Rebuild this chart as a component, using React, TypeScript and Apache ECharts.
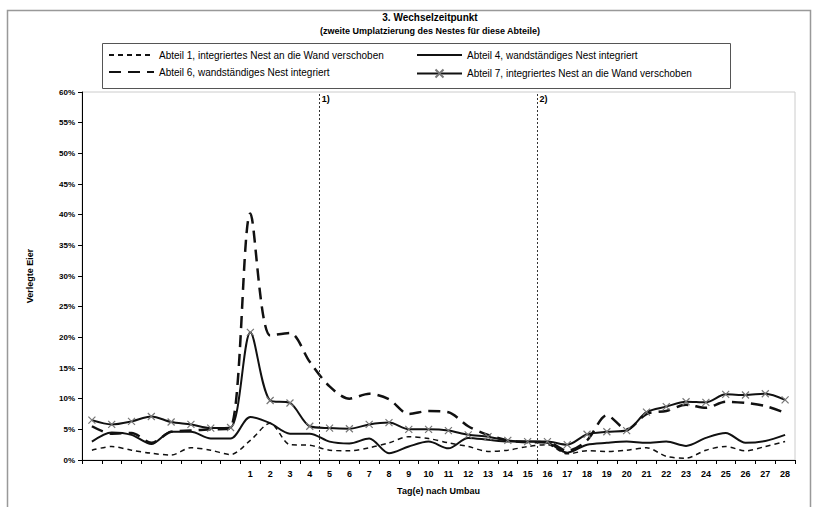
import React, { useEffect, useRef } from "react";
import * as echarts from "echarts";

const titleText = "3. Wechselzeitpunkt";
const subtitleText = "(zweite Umplatzierung des Nestes für diese Abteile)";
const yAxisName = "Verlegte Eier";
const xAxisName = "Tag(e) nach Umbau";

const categories = [
  "", "", "", "", "", "", "", "",
  "1", "2", "3", "4", "5", "6", "7", "8", "9", "10", "11", "12", "13", "14",
  "15", "16", "17", "18", "19", "20", "21", "22", "23", "24", "25", "26", "27", "28",
];

const seriesNames = [
  "Abteil 1, integriertes Nest an die Wand verschoben",
  "Abteil 4, wandständiges Nest integriert",
  "Abteil 6, wandständiges Nest integriert",
  "Abteil 7, integriertes Nest an die Wand verschoben",
];

const abteil1 = [1.6, 2.2, 1.6, 1.1, 0.8, 2.0, 1.6, 0.9, 3.2, 6.0, 2.5, 2.4, 1.6, 1.5, 2.0, 2.8, 3.8, 3.5, 2.8, 2.2, 1.4, 1.6, 2.2, 2.5, 1.0, 1.5, 1.4, 1.6, 2.0, 0.6, 0.3, 1.6, 2.2, 1.5, 2.2, 3.0];
const abteil4 = [3.0, 4.5, 4.1, 2.6, 4.6, 4.6, 3.5, 3.5, 7.0, 6.0, 4.3, 4.3, 3.0, 2.7, 3.5, 1.1, 2.2, 3.0, 1.9, 3.6, 3.3, 3.0, 3.0, 2.8, 1.2, 2.5, 2.8, 3.0, 2.8, 3.0, 2.3, 3.6, 4.4, 2.8, 3.1, 4.1];
const abteil6 = [5.5, 4.3, 4.4, 2.8, 4.6, 4.8, 5.0, 5.2, 40.2, 20.3, 20.7, 16.0, 12.0, 10.0, 10.8, 9.9, 7.5, 8.0, 7.8, 5.5, 4.1, 3.2, 2.9, 2.9, 1.5, 3.2, 7.3, 5.0, 7.5, 8.0, 9.0, 8.5, 9.5, 9.3, 8.8, 7.7];
const abteil7 = [6.5, 5.8, 6.3, 7.1, 6.2, 5.8, 5.2, 5.3, 20.8, 9.7, 9.3, 5.5, 5.2, 5.1, 5.8, 6.1, 5.0, 5.0, 4.8, 4.1, 3.8, 3.2, 3.0, 3.0, 2.5, 4.2, 4.6, 4.8, 7.8, 8.7, 9.5, 9.4, 10.7, 10.6, 10.8, 9.8];

// boundaries (in category units) where the dotted reference lines sit
const refLines = [12, 23];
const refLabels = ["1)", "2)"];

const FONT = "'Liberation Sans Narrow', 'Liberation Sans', Arial, sans-serif";

export default function App() {
  const ref = useRef<HTMLDivElement>(null);
  useEffect(() => {
    if (!ref.current) return;
    const chart = echarts.init(ref.current, null, { renderer: "svg" });
    const lineColor = "#111";
    const noSymbol = { opacity: 0, color: "transparent", borderWidth: 0 };
    const legendText = { fontSize: 10, color: "#000", fontFamily: FONT };
    const option: any = {
      animation: false,
      backgroundColor: "#fff",
      textStyle: { fontFamily: FONT },
      title: {
        text: titleText,
        subtext: subtitleText,
        left: 425,
        textAlign: "center",
        top: 7,
        itemGap: 4,
        textStyle: { fontSize: 10, fontWeight: "bold", color: "#000", fontFamily: FONT },
        subtextStyle: { fontSize: 9, fontWeight: "bold", color: "#000", fontFamily: FONT },
      },
      graphic: [
        {
          type: "rect",
          left: 5,
          top: 8,
          shape: { width: 803, height: 520 },
          style: { fill: "none", stroke: "#999", lineWidth: 1.5 },
          silent: true,
        },
        {
          type: "rect",
          left: 100,
          top: 41,
          shape: { width: 628, height: 45 },
          style: { fill: "none", stroke: "#555", lineWidth: 1 },
          silent: true,
        },
      ],
      legend: [
        {
          data: [
            { name: seriesNames[0], itemStyle: noSymbol },
            { name: seriesNames[2], itemStyle: noSymbol },
          ],
          orient: "vertical",
          left: 103,
          top: 45,
          itemGap: 7,
          itemWidth: 45,
          itemHeight: 10,
          textStyle: legendText,
        },
        {
          data: [
            { name: seriesNames[1], itemStyle: noSymbol },
            { name: seriesNames[3] },
          ],
          orient: "vertical",
          left: 411,
          top: 45,
          itemGap: 7,
          itemWidth: 45,
          itemHeight: 10,
          textStyle: legendText,
        },
      ],
      grid: {
        left: 82,
        right: 33,
        top: 92,
        bottom: 47,
        show: true,
        borderColor: "#ccc",
        borderWidth: 1,
      },
      xAxis: [
        {
          type: "category",
          data: categories,
          boundaryGap: true,
          name: xAxisName,
          nameLocation: "middle",
          nameGap: 26,
          nameTextStyle: { fontSize: 9, fontWeight: "bold", color: "#000", fontFamily: FONT },
          axisLine: { lineStyle: { color: "#000", width: 1 } },
          axisTick: { show: true, alignWithLabel: false, interval: 0, length: 4, lineStyle: { color: "#000" } },
          axisLabel: { interval: 0, fontSize: 9, fontWeight: "bold", color: "#000", margin: 9, fontFamily: FONT },
          splitLine: { show: false },
        },
        {
          type: "value",
          min: 0,
          max: categories.length,
          show: false,
        },
      ],
      yAxis: {
        type: "value",
        min: 0,
        max: 60,
        interval: 5,
        name: yAxisName,
        nameLocation: "middle",
        nameGap: 48,
        nameRotate: 90,
        nameTextStyle: { fontSize: 9, fontWeight: "bold", color: "#000", fontFamily: FONT },
        axisLine: { show: true, lineStyle: { color: "#000", width: 1 } },
        axisTick: { show: true, length: 4, lineStyle: { color: "#000" } },
        axisLabel: { formatter: "{value}%", fontSize: 8, fontWeight: "bold", color: "#000", margin: 7, fontFamily: FONT },
        splitLine: { show: false },
      },
      series: [
        {
          name: seriesNames[0],
          type: "line",
          data: abteil1,
          smooth: 0.3,
          symbol: "none",
          lineStyle: { color: lineColor, width: 1.5, type: [5, 4] },
          itemStyle: { color: lineColor },
          z: 2,
        },
        {
          name: seriesNames[1],
          type: "line",
          data: abteil4,
          smooth: 0.3,
          symbol: "none",
          lineStyle: { color: lineColor, width: 2 },
          itemStyle: { color: lineColor },
          z: 3,
        },
        {
          name: seriesNames[2],
          type: "line",
          data: abteil6,
          smooth: 0.3,
          symbol: "none",
          lineStyle: { color: lineColor, width: 2.5, type: [12, 7] },
          itemStyle: { color: lineColor },
          z: 4,
        },
        {
          name: seriesNames[3],
          type: "line",
          data: abteil7,
          smooth: 0.3,
          symbol: "path://M0 0L10 10M10 0L0 10",
          symbolSize: 7,
          showSymbol: true,
          lineStyle: { color: lineColor, width: 2 },
          itemStyle: { color: "none", borderColor: "#777", borderWidth: 1.2 },
          z: 5,
        },
        {
          name: "ref",
          type: "line",
          xAxisIndex: 1,
          yAxisIndex: 0,
          data: [],
          silent: true,
          markLine: {
            silent: true,
            symbol: ["none", "none"],
            lineStyle: { color: "#333", type: [2, 2], width: 1 },
            label: {
              show: true,
              position: "end",
              fontSize: 9,
              fontWeight: "bold",
              color: "#000",
              fontFamily: FONT,
              offset: [6, 16],
            },
            data: refLines.map((v, i) => ({
              xAxis: v,
              label: { formatter: refLabels[i] },
            })),
          },
        },
      ],
    };
    chart.setOption(option);
    return () => chart.dispose();
  }, []);
  return (
    <div
      ref={ref}
      style={{ position: "fixed", left: 0, top: 0, width: 828, height: 507 }}
    />
  );
}
